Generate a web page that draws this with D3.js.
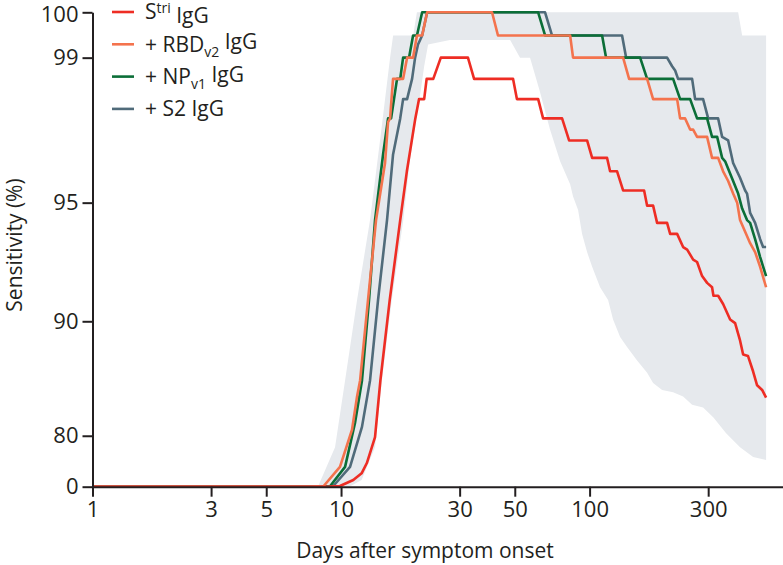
<!DOCTYPE html>
<html>
<head>
<meta charset="utf-8">
<script src="https://cdn.jsdelivr.net/npm/d3@7"></script>
<style>
  body { margin: 0; background: #fff; }
  svg { display: block; font-family: "Open Sans", sans-serif; }
</style>
</head>
<body>
<div id="chart"></div>
<script>
// ticks
const xTicks = [1, 3, 5, 10, 30, 50, 100, 300];
const yTicks = [0, 80, 90, 95, 99, 100];

// [day, sensitivity %]
const striIgG = [[1,0],[6,0],[8,10],[9,40],[9.9,52],[11.2,65.3],[12.1,70],[12.7,74.1],[13.7,79.8],[14.4,86.1],[15.7,91.1],[17.3,94.4],[18.4,96.0],[19.9,97.5],[20.6,98.0],[21.6,98.0],[22.1,98.5],[23.5,98.5],[25.2,99.0],[32.4,99.0],[34.3,98.5],[49.2,98.5],[51,98.0],[62.1,98.0],[65,97.5],[77.5,97.5],[82.7,96.9],[97.7,96.9],[102.4,96.4],[117.6,96.4],[120.9,96.0],[129,96.0],[136.4,95.4],[165.7,95.4],[170.4,94.9],[180.1,94.9],[186.9,94.3],[205,94.3],[210.9,93.9],[225,93.9],[237.8,93.4],[246.9,93.3],[261,92.9],[270.7,92.8],[283.6,92.2],[297,91.9],[311,91.7],[315,91.3],[329,91.3],[344.5,90.9],[367.6,90.1],[385,89.9],[403,88.9],[414.7,88.0],[434,87.9],[455,86.8],[472,85.7],[494.6,85.3],[513,84.6]];
const rbdIgG = [[1,0],[6,0],[7.5,20],[8.5,50],[9.9,72.8],[11.07,80.9],[11.6,84.7],[11.93,86.1],[12.84,91.1],[13.83,94.4],[15.03,96.25],[15.46,97.4],[15.75,97.5],[16.19,98.5],[17.77,98.5],[18.44,99.0],[19.49,99.0],[20.2,99.5],[21.2,99.5],[22.2,100],[40.5,100],[42.8,99.5],[83.5,99.5],[85.8,99.0],[136.4,99.0],[144.2,98.5],[170.4,98.5],[180.1,98.0],[225,98.0],[231.3,97.5],[242.3,97.5],[253.8,97.2],[261,97.2],[270.7,97.0],[297,97.0],[311,96.4],[329,96.4],[344.5,96.0],[361,95.7],[378,95.3],[392.4,95.0],[403,94.4],[442.5,93.55],[463.4,93.2],[485.5,92.6],[513,91.7]];
const npIgG = [[1,0],[6,0],[8,20],[9.03,50],[10.38,72.8],[11.38,81.8],[12.14,86.1],[12.96,91.1],[13.7,94.4],[14.76,96.5],[15.46,97.5],[15.9,97.5],[16.8,98.5],[17.3,98.5],[17.77,99.0],[18.77,99.0],[19.49,99.5],[20.2,99.5],[21.2,100],[62.1,100],[66.2,99.5],[112.3,99.5],[116.5,99.0],[159.7,99.0],[170.4,98.5],[216.8,98.5],[231.3,98.0],[253.8,98.0],[270.7,97.5],[297,97.5],[311,97.0],[326,97.0],[341.4,96.4],[351,96.3],[378,95.7],[396,95.3],[411,94.8],[430,94.4],[442.5,94.3],[463.4,93.7],[485.5,93.0],[513,92.2]];
const s2IgG = [[1,0],[6,0],[8.2,20],[9.29,50],[10.87,72.8],[12.14,81.3],[13.08,86.1],[14.09,91.1],[15.31,94.4],[16.19,96.5],[17.3,97.5],[17.77,98.0],[18.44,98.0],[19.31,98.5],[19.86,99.0],[20.4,99.3],[21.2,99.5],[22.2,100],[66.2,100],[70.6,99.5],[135.1,99.5],[140.3,99.0],[205,99.0],[214.8,98.8],[220.9,98.7],[227,98.5],[258.5,98.5],[265.8,98.0],[286.2,98.0],[300,97.5],[329,97.5],[341.4,97.0],[361,96.9],[378,96.25],[403,95.8],[422.5,95.4],[430,95.3],[442.5,94.65],[463.4,94.3],[485.5,93.7],[499,93.4],[513,93.4]];

// confidence band
const bandUpper = [[1,0],[7,0],[8.08,45],[9.46,78.0],[10.38,86.1],[11.6,91.1],[13.08,94.4],[14.35,96.9],[15.75,99.0],[16.2,99.5],[19.5,99.5],[20.2,100],[396,100],[411,99.5],[513,99.5]];
const bandLower = [[1,0],[10,0],[10.8,40],[12.1,65.3],[13.7,78.0],[14.6,86.1],[16.0,91.1],[17.8,94.4],[18.9,96.3],[20.8,98.1],[21.6,98.8],[22.4,99.3],[27.4,99.4],[47.9,99.4],[52.5,99.0],[57.6,99.0],[63,98.2],[69.3,97.2],[76.1,96.3],[83.5,95.6],[85.8,95.2],[89.9,94.75],[93.3,93.9],[97.7,93.2],[102.4,92.6],[110.2,91.7],[118.7,91.1],[124.3,90.1],[132.7,89.1],[141.5,88.5],[155.3,87.6],[170.4,86.7],[180.1,85.9],[195.8,85.3],[216.8,85.1],[237.8,84.7],[258.5,83.9],[286.2,83.6],[315,82.5],[354.2,80.4],[403,78.0],[455,75.8],[513,75.0]];

const series = [
  { name: "S2", data: s2IgG, color: "#506b7a" },
  { name: "NP", data: npIgG, color: "#0b6e37" },
  { name: "RBD", data: rbdIgG, color: "#f4734d" },
  { name: "Stri", data: striIgG, color: "#ee2d24" }
];

const width = 783, height = 565;
const ink = "#231f20";

const svg = d3.select("#chart").append("svg")
  .attr("width", width)
  .attr("height", height);

const x = d3.scaleLog().domain([1, 600]).range([92.5, 783]);
const y = d3.scalePow().exponent(10).domain([0, 100]).range([486.7, 12.3]);

const line = d3.line().x(d => x(d[0])).y(d => y(d[1]));

// band: upper edge forward, lower edge back
svg.append("path")
  .attr("d", line(bandUpper.concat(bandLower.slice().reverse())) + "Z")
  .attr("fill", "#e6e9ed");

series.forEach(s => {
  svg.append("path")
    .attr("d", line(s.data))
    .attr("fill", "none")
    .attr("stroke", s.color)
    .attr("stroke-width", 2.6)
    .attr("stroke-linejoin", "round");
});

// axes
const gx = svg.append("g")
  .attr("transform", `translate(0,${y(0)})`)
  .call(d3.axisBottom(x).tickValues(xTicks).tickFormat(d3.format("d")).tickSize(10).tickSizeOuter(0).tickPadding(5));

const gy = svg.append("g")
  .attr("transform", `translate(${x(1)},0)`)
  .call(d3.axisLeft(y).tickValues(yTicks).tickSize(10).tickSizeOuter(0).tickPadding(4));

[gx, gy].forEach(g => {
  g.select(".domain").attr("stroke", ink).attr("stroke-width", 2);
  g.selectAll(".tick line").attr("stroke", ink).attr("stroke-width", 2);
  g.selectAll(".tick text")
    .attr("fill", ink)
    .style("font-size", "22px")
    .style("font-family", "Open Sans, sans-serif");
});
// keep the top label inside the picture
gy.selectAll(".tick text").filter(d => d === 100).attr("dy", "0.42em");

svg.append("text")
  .attr("x", 425)
  .attr("y", 558)
  .attr("text-anchor", "middle")
  .attr("fill", ink)
  .style("font-size", "21px")
  .text("Days after symptom onset");

svg.append("text")
  .attr("transform", "translate(22,245) rotate(-90)")
  .attr("text-anchor", "middle")
  .attr("fill", ink)
  .style("font-size", "21px")
  .text("Sensitivity (%)");

// legend
const legendItems = [
  { pre: "S", sub: null, sup: "tri", post: " IgG", color: "#ee2d24" },
  { pre: "+ RBD", sub: "v2", sup: null, post: " IgG", color: "#f4734d" },
  { pre: "+ NP", sub: "v1", sup: null, post: " IgG", color: "#0b6e37" },
  { pre: "+ S2", sub: null, sup: null, post: " IgG", color: "#506b7a" }
];

const legend = svg.append("g");
legendItems.forEach((d, i) => {
  const ly = 12 + i * 32.3;
  legend.append("line")
    .attr("x1", 112).attr("x2", 134)
    .attr("y1", ly).attr("y2", ly)
    .attr("stroke", d.color)
    .attr("stroke-width", 2.6);
  const t = legend.append("text")
    .attr("x", 145)
    .attr("y", ly)
    .attr("dy", "0.35em")
    .attr("fill", ink)
    .style("font-size", "21px");
  t.append("tspan").text(d.pre);
  if (d.sup) t.append("tspan").attr("dy", "-0.45em").style("font-size", "14px").text(d.sup);
  if (d.sub) t.append("tspan").attr("dy", "0.35em").style("font-size", "14px").text(d.sub);
  const back = d.sup ? "0.45em" : d.sub ? "-0.35em" : "0";
  t.append("tspan").attr("dy", back).text(d.post);
});
</script>
</body>
</html>
